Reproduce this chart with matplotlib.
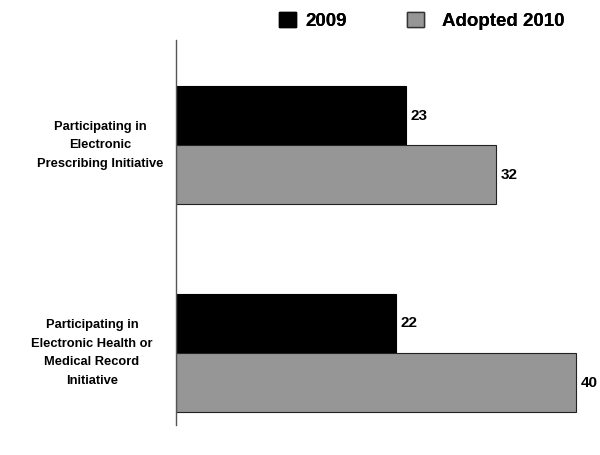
import matplotlib
matplotlib.use("Agg")
import matplotlib.pyplot as plt
from matplotlib.patches import Patch
import numpy as np

categories = ["Participating in\nElectronic\nPrescribing Initiative",
              "Participating in\nElectronic Health or\nMedical Record\nInitiative"]
series_names = ["2009", "Adopted 2010"]
values_2009 = [23, 22]
values_2010 = [32, 40]

plt.rcParams['font.family'] = ['Liberation Sans', 'DejaVu Sans']

fig = plt.figure(figsize=(6, 4.55), dpi=100)
ax = fig.add_axes([176/600, 1-425/455, 420/600, 385/455])

y = np.arange(len(categories))
h = 0.284
ax.barh(y - h/2, values_2009, height=h, color='black', edgecolor='black', linewidth=0.8)
ax.barh(y + h/2, values_2010, height=h, color='#969696', edgecolor='#222222', linewidth=0.8)

for yi, v in zip(y - h/2, values_2009):
    ax.text(v + 0.45, yi, str(v), va='center', ha='left', fontsize=11, fontweight='bold')
for yi, v in zip(y + h/2, values_2010):
    ax.text(v + 0.45, yi, str(v), va='center', ha='left', fontsize=11, fontweight='bold')

ax.set_xlim(0, 42)
ax.set_ylim(1.346, -0.505)
ax.set_xticks([])
ax.set_yticks([])
for s in ['top', 'right', 'bottom']:
    ax.spines[s].set_visible(False)
ax.spines['left'].set_color('#555555')
ax.spines['left'].set_linewidth(1.0)

trans = matplotlib.transforms.blended_transform_factory(ax.transAxes, ax.transData)
xpos = [(100-176)/420, (92-176)/420]
for yi, lab, xp in zip(y, categories, xpos):
    ax.text(xp, yi, lab, transform=trans, ha='center', va='center',
            multialignment='center', fontsize=9.3, fontweight='bold', linespacing=1.72)

handle_colors = [('black', 'black'), ('#969696', '#333333')]
leg_x = [279/600, 407/600]
pads = [0.53, 0.96]
for name, (fc, ec), lx, pad in zip(series_names, handle_colors, leg_x, pads):
    leg = fig.legend([Patch(facecolor=fc, edgecolor=ec)], [name], loc='center left',
                     bbox_to_anchor=(lx, 1-21/455), frameon=False,
                     handlelength=0.9, handleheight=0.9, handletextpad=pad,
                     borderpad=0, borderaxespad=0,
                     prop={'weight': 'bold', 'size': 13.5})
    fig.add_artist(leg)

fig.savefig("out.png", dpi=100)
